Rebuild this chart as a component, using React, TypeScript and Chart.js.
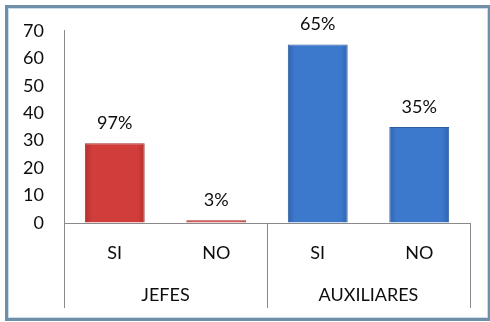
import React, { useEffect, useRef } from "react";
import { Chart, registerables } from "chart.js";

Chart.register(...registerables);

const categories = ["SI", "NO", "SI", "NO"];
const groups = ["JEFES", "AUXILIARES"];
const values = [29, 1, 65, 35];
const pctLabels = ["97%", "3%", "65%", "35%"];
const yTicks = [0, 10, 20, 30, 40, 50, 60, 70];

const FONT = "Lato";
const TEXT = "#0d0d0d";
const AXIS = "#8a8a8a";
const barFill = ["#d13d3b", "#d13d3b", "#3c79cd", "#3c79cd"];
const barDark = ["#b3302e", "#b3302e", "#2f64b0", "#2f64b0"];
const barEdge = ["#a42b29", "#a42b29", "#2c5d9f", "#2c5d9f"];

const labelsPlugin = {
  id: "pctLabels",
  afterDatasetsDraw(chart: any) {
    const meta = chart.getDatasetMeta(0);
    const ctx = chart.ctx;
    ctx.save();
    ctx.font = `18px ${FONT}`;
    ctx.fillStyle = TEXT;
    ctx.textAlign = "center";
    ctx.textBaseline = "middle";
    meta.data.forEach((bar: any, i: number) => {
      ctx.fillText(pctLabels[i], bar.x, bar.y - 20);
    });
    ctx.restore();
  },
};

const separatorPlugin = {
  id: "groupSeparators",
  afterDraw(chart: any) {
    const xs = chart.scales.x;
    const x2 = chart.scales.x2;
    const ctx = chart.ctx;
    const mid = (xs.getPixelForValue(1) + xs.getPixelForValue(2)) / 2;
    ctx.save();
    ctx.strokeStyle = AXIS;
    ctx.lineWidth = 1;
    [xs.left, mid, xs.right].forEach((px: number) => {
      const p = Math.round(px) + 0.5;
      ctx.beginPath();
      ctx.moveTo(p, xs.top);
      ctx.lineTo(p, x2.bottom);
      ctx.stroke();
    });
    ctx.restore();
  },
};

function barGradient(c: any) {
  const i = c.dataIndex;
  const chart = c.chart;
  const xs = chart.scales && chart.scales.x;
  if (!chart.chartArea || !xs || i === undefined) return barFill[i ?? 0];
  const cx = xs.getPixelForValue(i);
  const half = 30;
  const g = chart.ctx.createLinearGradient(cx - half, 0, cx + half, 0);
  g.addColorStop(0, barDark[i]);
  g.addColorStop(0.12, barFill[i]);
  g.addColorStop(0.88, barFill[i]);
  g.addColorStop(1, barDark[i]);
  return g;
}

export default function App() {
  const ref = useRef<HTMLCanvasElement>(null);

  useEffect(() => {
    if (!ref.current) return;
    const chart = new Chart(ref.current, {
      type: "bar",
      data: {
        labels: categories,
        datasets: [
          {
            data: values,
            backgroundColor: barGradient,
            borderColor: barEdge,
            borderWidth: 1,
            barPercentage: 0.59,
            categoryPercentage: 1,
            xAxisID: "x",
          },
        ],
      },
      options: {
        responsive: false,
        animation: false,
        layout: { padding: { top: 30, right: 20, bottom: 14, left: 0 } },
        plugins: { legend: { display: false }, tooltip: { enabled: false } },
        scales: {
          y: {
            min: 0,
            max: 70,
            afterFit: (s: any) => {
              s.width = 64;
            },
            afterBuildTicks: (s: any) => {
              s.ticks = yTicks.map((v) => ({ value: v }));
            },
            grid: { display: true, drawOnChartArea: false, drawTicks: false },
            border: { display: true, color: AXIS, width: 1 },
            ticks: { font: { family: FONT, size: 18 }, color: TEXT, padding: 20 },
          },
          x: {
            position: "bottom",
            afterFit: (s: any) => {
              s.height = 40;
            },
            grid: { display: true, drawOnChartArea: false, drawTicks: false },
            border: { display: true, color: AXIS, width: 1 },
            ticks: { font: { family: FONT, size: 18 }, color: TEXT, padding: 19 },
          },
          x2: {
            type: "category",
            position: "bottom",
            labels: groups,
            offset: true,
            afterFit: (s: any) => {
              s.height = 45;
            },
            grid: { display: false, drawTicks: false },
            border: { display: false },
            ticks: { font: { family: FONT, size: 18 }, color: TEXT, padding: 21 },
          },
        },
      },
      plugins: [labelsPlugin, separatorPlugin],
    });
    return () => chart.destroy();
  }, []);

  return (
    <div
      style={{
        position: "fixed",
        left: 0,
        top: 0,
        width: 490,
        height: 322,
        background: "#ffffff",
        overflow: "hidden",
      }}
    >
      <div
        style={{
          position: "absolute",
          left: 5,
          top: 5,
          width: 486,
          height: 316,
          boxSizing: "border-box",
          border: "3px solid #6f8ea8",
          boxShadow: "inset 0 0 0 1px #cadbe9",
          background: "#ffffff",
        }}
      />
      <canvas
        ref={ref}
        width={490}
        height={322}
        style={{ position: "absolute", left: 0, top: 0, width: 490, height: 322 }}
      />
    </div>
  );
}
